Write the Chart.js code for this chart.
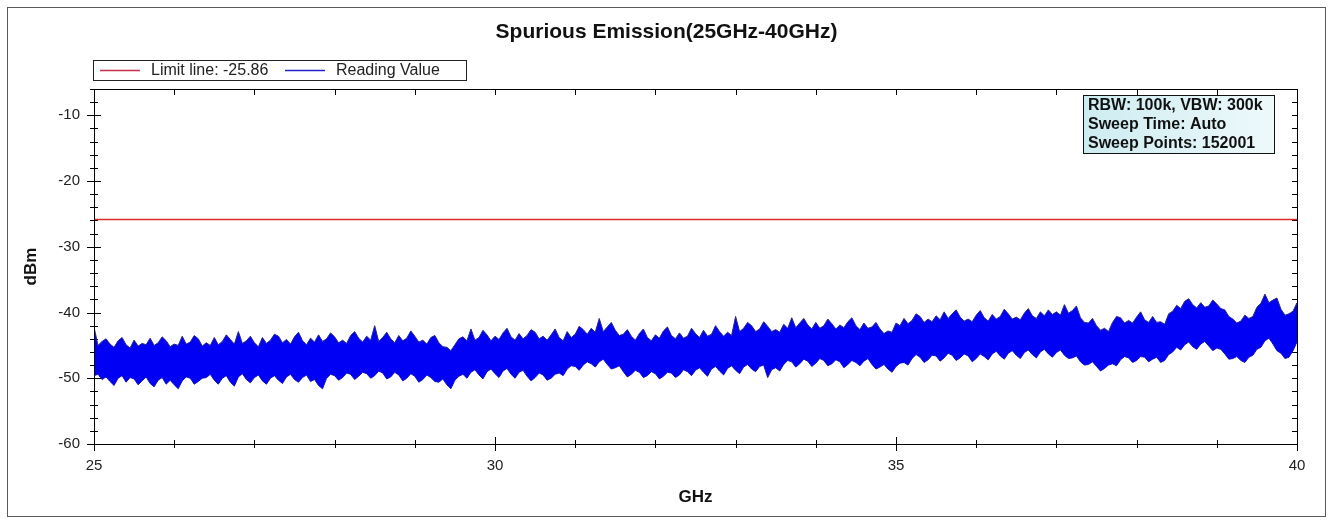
<!DOCTYPE html>
<html>
<head>
<meta charset="utf-8">
<script src="https://cdn.jsdelivr.net/npm/chart.js@4/dist/chart.umd.min.js"></script>
<style>
  html, body { margin: 0; padding: 0; background: #fff; }
  canvas { display: block; }
</style>
</head>
<body>
<canvas id="chart" width="1333" height="523"></canvas>
<script>
const chartTitle = 'Spurious Emission(25GHz-40GHz)';
const limitLabel = 'Limit line: -25.86';
const readingLabel = 'Reading Value';
const infoLines = ['RBW: 100k, VBW: 300k', 'Sweep Time: Auto', 'Sweep Points: 152001'];
const xTitle = 'GHz';
const yTitle = 'dBm';

const xMajorTicks = [25, 30, 35, 40];
const yMajorTicks = [-60, -50, -40, -30, -20, -10];

const limitFreq = [25, 40];
const limitDbm = [-25.86, -25.86];

// reading value band, upper / lower edge of the trace read every 0.05 GHz
const freqGHz = [
  25, 25.05, 25.1, 25.15, 25.2, 25.25, 25.3, 25.35, 25.4, 25.45,
  25.5, 25.55, 25.6, 25.65, 25.7, 25.75, 25.8, 25.85, 25.9, 25.95,
  26, 26.05, 26.1, 26.15, 26.2, 26.25, 26.3, 26.35, 26.4, 26.45,
  26.5, 26.55, 26.6, 26.65, 26.7, 26.75, 26.8, 26.85, 26.9, 26.95,
  27, 27.05, 27.1, 27.15, 27.2, 27.25, 27.3, 27.35, 27.4, 27.45,
  27.5, 27.55, 27.6, 27.65, 27.7, 27.75, 27.8, 27.85, 27.9, 27.95,
  28, 28.05, 28.1, 28.15, 28.2, 28.25, 28.3, 28.35, 28.4, 28.45,
  28.5, 28.55, 28.6, 28.65, 28.7, 28.75, 28.8, 28.85, 28.9, 28.95,
  29, 29.05, 29.1, 29.15, 29.2, 29.25, 29.3, 29.35, 29.4, 29.45,
  29.5, 29.55, 29.6, 29.65, 29.7, 29.75, 29.8, 29.85, 29.9, 29.95,
  30, 30.05, 30.1, 30.15, 30.2, 30.25, 30.3, 30.35, 30.4, 30.45,
  30.5, 30.55, 30.6, 30.65, 30.7, 30.75, 30.8, 30.85, 30.9, 30.95,
  31, 31.05, 31.1, 31.15, 31.2, 31.25, 31.3, 31.35, 31.4, 31.45,
  31.5, 31.55, 31.6, 31.65, 31.7, 31.75, 31.8, 31.85, 31.9, 31.95,
  32, 32.05, 32.1, 32.15, 32.2, 32.25, 32.3, 32.35, 32.4, 32.45,
  32.5, 32.55, 32.6, 32.65, 32.7, 32.75, 32.8, 32.85, 32.9, 32.95,
  33, 33.05, 33.1, 33.15, 33.2, 33.25, 33.3, 33.35, 33.4, 33.45,
  33.5, 33.55, 33.6, 33.65, 33.7, 33.75, 33.8, 33.85, 33.9, 33.95,
  34, 34.05, 34.1, 34.15, 34.2, 34.25, 34.3, 34.35, 34.4, 34.45,
  34.5, 34.55, 34.6, 34.65, 34.7, 34.75, 34.8, 34.85, 34.9, 34.95,
  35, 35.05, 35.1, 35.15, 35.2, 35.25, 35.3, 35.35, 35.4, 35.45,
  35.5, 35.55, 35.6, 35.65, 35.7, 35.75, 35.8, 35.85, 35.9, 35.95,
  36, 36.05, 36.1, 36.15, 36.2, 36.25, 36.3, 36.35, 36.4, 36.45,
  36.5, 36.55, 36.6, 36.65, 36.7, 36.75, 36.8, 36.85, 36.9, 36.95,
  37, 37.05, 37.1, 37.15, 37.2, 37.25, 37.3, 37.35, 37.4, 37.45,
  37.5, 37.55, 37.6, 37.65, 37.7, 37.75, 37.8, 37.85, 37.9, 37.95,
  38, 38.05, 38.1, 38.15, 38.2, 38.25, 38.3, 38.35, 38.4, 38.45,
  38.5, 38.55, 38.6, 38.65, 38.7, 38.75, 38.8, 38.85, 38.9, 38.95,
  39, 39.05, 39.1, 39.15, 39.2, 39.25, 39.3, 39.35, 39.4, 39.45,
  39.5, 39.55, 39.6, 39.65, 39.7, 39.75, 39.8, 39.85, 39.9, 39.95,
  40
];
const readingUpper = [
  -42.2, -45.0, -44.4, -44.0, -44.8, -45.3, -44.3, -43.8, -44.9, -45.4,
  -44.2, -45.1, -44.7, -44.9, -43.9, -45.0, -44.6, -43.7, -44.3, -45.2,
  -44.8, -45.0, -43.6, -44.8, -44.5, -43.5, -44.0, -45.1, -44.6, -45.0,
  -43.8, -44.9, -44.4, -43.4, -44.1, -44.8, -42.9, -44.7, -44.3, -43.6,
  -44.6, -45.2, -43.8, -44.7, -44.2, -43.3, -43.6, -44.6, -44.1, -44.8,
  -43.7, -43.0, -44.3, -44.9, -43.9, -44.5, -43.4, -44.4, -44.0, -43.1,
  -43.7, -44.6, -44.2, -44.7, -43.5, -42.9, -43.9, -44.5, -43.6, -44.2,
  -42.0, -44.4, -43.8, -43.0, -44.0, -44.6, -43.5, -44.3, -43.9, -42.8,
  -43.6, -44.5, -44.2, -44.8, -43.8, -43.5, -44.6, -45.2, -45.3, -45.8,
  -44.9, -44.0, -43.7, -44.3, -42.5, -44.2, -43.8, -42.7, -43.4, -44.3,
  -43.6, -44.1, -43.1, -42.4, -43.7, -44.2, -43.2, -44.0, -43.5, -42.6,
  -43.0, -44.0, -43.6, -44.2, -43.4, -42.5, -43.8, -44.3, -42.9, -43.8,
  -43.3, -42.1, -42.6, -43.3, -42.4, -43.0, -40.9, -42.9, -42.2, -41.5,
  -42.7, -43.5, -43.3, -42.6, -43.6, -44.2, -43.2, -42.5, -43.8, -44.3,
  -43.4, -43.9, -42.8, -42.2, -43.5, -44.0, -43.1, -43.9, -43.6, -42.4,
  -43.2, -43.8, -42.7, -43.6, -43.3, -42.0, -42.9, -43.6, -43.0, -43.5,
  -40.6, -42.9, -42.4, -41.5, -42.0, -42.9, -42.5, -41.4, -42.1, -42.9,
  -42.6, -43.0, -41.8, -42.4, -40.8, -42.3, -41.6, -40.9, -41.9, -42.5,
  -41.5, -42.4, -42.0, -41.0, -41.7, -42.5, -41.9, -42.3, -41.4, -40.8,
  -42.0, -42.6, -41.6, -42.4, -42.2, -41.5, -42.5, -43.2, -42.8, -43.0,
  -41.6, -42.0, -40.9, -41.7, -41.2, -40.2, -40.6, -41.5, -41.0, -41.4,
  -40.5, -41.1, -39.9, -40.9, -40.2, -39.6, -40.7, -41.3, -41.0, -41.4,
  -40.4, -39.7, -40.8, -41.3, -40.3, -41.0, -40.6, -39.5, -40.2, -41.0,
  -40.7, -41.1, -40.1, -39.4, -40.5, -40.9, -39.9, -40.5, -39.6, -40.3,
  -39.9, -40.4, -38.8, -40.1, -39.7, -39.0, -40.8, -41.5, -41.6, -40.9,
  -42.0, -42.7, -42.4, -42.9, -41.5, -40.6, -40.8, -41.6, -41.2, -41.6,
  -40.7, -39.9, -41.1, -41.5, -40.6, -41.5, -41.4, -41.8, -40.2, -39.8,
  -38.9, -39.4, -38.3, -37.9, -38.8, -39.3, -38.5, -39.2, -39.0, -38.1,
  -38.7, -39.4, -39.6, -40.6, -41.0, -41.6, -41.3, -40.4, -40.9, -40.6,
  -39.2, -38.6, -37.2, -38.5, -38.1, -37.8, -39.5, -40.4, -40.2, -39.8,
  -38.5
];
const readingLower = [
  -49.6, -49.4, -50.2, -49.8, -50.5, -51.1, -50.0, -49.6, -50.6, -49.9,
  -50.1, -51.0, -50.4, -49.8, -50.8, -51.3, -50.3, -49.9, -50.9, -50.3,
  -51.0, -51.6, -50.4, -49.8, -50.0, -50.9, -50.5, -50.0, -49.9, -49.4,
  -50.3, -50.9, -50.0, -49.6, -50.6, -51.2, -49.8, -49.3, -50.2, -50.7,
  -49.9, -49.5, -50.4, -50.9, -50.0, -49.6, -50.3, -50.8, -49.8, -49.4,
  -50.2, -50.6, -49.9, -49.5, -50.5, -50.2, -51.1, -51.6, -50.0, -49.4,
  -49.6, -50.3, -49.9, -49.2, -49.4, -50.2, -49.7, -49.1, -49.3, -50.0,
  -49.6, -48.9, -49.2, -50.1, -49.8, -49.1, -49.5, -50.4, -50.0, -49.3,
  -49.7, -50.6, -50.2, -49.5, -49.9, -50.5, -50.6, -50.1, -51.0, -51.6,
  -50.3, -49.7, -49.4, -50.0, -49.1, -48.7, -49.5, -50.1, -49.0, -48.6,
  -49.3, -49.9, -48.9, -48.5, -49.4, -50.0, -49.1, -48.8, -49.7, -50.4,
  -49.9, -49.2, -49.5, -50.3, -50.0, -49.4, -49.2, -49.6, -48.6, -48.1,
  -48.2, -48.8, -48.0, -47.5, -47.8, -48.3, -47.5, -47.1, -47.9, -48.6,
  -48.4, -48.1, -49.0, -49.8, -49.4, -48.8, -49.1, -49.9, -49.6, -49.0,
  -49.3, -50.1, -49.7, -49.1, -49.2, -49.9, -49.5, -48.7, -49.0, -49.6,
  -48.8, -48.4, -49.1, -49.7, -48.6, -48.2, -48.9, -49.5, -48.5, -48.1,
  -48.8, -49.3, -48.3, -47.9, -48.6, -49.0, -48.2, -48.0, -49.9, -48.7,
  -48.4, -48.9, -47.9, -47.3, -47.5, -48.3, -47.8, -47.1, -47.4, -48.2,
  -47.7, -47.0, -47.3, -48.1, -47.8, -47.2, -47.5, -48.4, -47.9, -47.3,
  -47.6, -48.1, -47.4, -47.0, -47.9, -48.6, -48.3, -47.9, -48.6, -49.1,
  -48.2, -47.7, -47.6, -48.0, -47.0, -46.4, -46.8, -47.6, -47.2, -46.5,
  -46.6, -47.4, -46.9, -46.2, -46.5, -47.3, -46.9, -46.3, -46.6, -47.5,
  -47.0, -46.3, -46.7, -47.2, -46.3, -45.9, -46.6, -47.1, -46.2, -45.8,
  -46.5, -47.0, -46.1, -45.7, -46.4, -46.9, -46.0, -45.6, -46.3, -46.8,
  -46.1, -45.7, -46.5, -47.0, -46.9, -46.6, -47.5, -48.0, -47.9, -47.5,
  -48.2, -48.9, -48.5, -48.0, -47.8, -48.1, -47.2, -46.7, -46.9, -47.6,
  -47.3, -46.7, -46.8, -47.5, -47.1, -46.8, -47.6, -47.3, -46.4, -46.0,
  -45.3, -45.7, -44.9, -44.5, -45.2, -45.6, -44.8, -44.4, -45.1, -45.8,
  -45.4, -45.6, -46.3, -47.1, -47.0, -46.7, -47.3, -47.6, -46.8, -46.5,
  -45.6, -45.3, -44.3, -43.9, -44.8, -45.8, -46.2, -47.0, -46.8, -45.8,
  -44.5
];

const FONT = 'Arial, "Liberation Sans", sans-serif';
const RED = '#dc2a32';
const BLUE = '#0000f4';
const BLUE_EDGE = '#26268e';

const toPoints = (xs, ys) => xs.map((x, i) => ({ x: x, y: ys[i] }));

// frame, ticks, title, legend box, info box
const decor = {
  id: 'decor',
  beforeDraw(chart) {
    const ctx = chart.ctx;
    ctx.save();
    ctx.fillStyle = '#fff';
    ctx.fillRect(0, 0, chart.width, chart.height);
    ctx.strokeStyle = '#5a5a5a';
    ctx.lineWidth = 1;
    ctx.strokeRect(7.5, 7.5, 1318, 509);
    ctx.restore();
  },
  beforeDatasetsDraw(chart) {
    const ctx = chart.ctx;
    const a = chart.chartArea;
    const xs = chart.scales.x, ys = chart.scales.y;
    ctx.save();
    ctx.strokeStyle = '#000';
    ctx.lineWidth = 1;
    ctx.beginPath();
    xs.ticks.forEach(t => {
      const px = Math.round(xs.getPixelForValue(t.value)) + 0.5;
      const len = xMajorTicks.includes(t.value) ? 7 : 4;
      ctx.moveTo(px, a.bottom - len); ctx.lineTo(px, a.bottom + len);
      ctx.moveTo(px, a.top); ctx.lineTo(px, a.top + 6);
    });
    ys.ticks.forEach(t => {
      const py = Math.round(ys.getPixelForValue(t.value)) + 0.5;
      const len = yMajorTicks.includes(t.value) ? 7 : 4;
      ctx.moveTo(a.left - len, py); ctx.lineTo(a.left + len, py);
      ctx.moveTo(a.right, py); ctx.lineTo(a.right - 5, py);
    });
    ctx.stroke();
    ctx.restore();
  },
  afterDraw(chart) {
    const ctx = chart.ctx;
    const a = chart.chartArea;
    ctx.save();
    ctx.strokeStyle = '#000';
    ctx.lineWidth = 1;
    ctx.strokeRect(Math.round(a.left) + 0.5, Math.round(a.top) + 0.5,
      Math.round(a.right - a.left), Math.round(a.bottom - a.top));

    ctx.fillStyle = '#111';
    ctx.textBaseline = 'middle';
    ctx.textAlign = 'center';
    ctx.font = 'bold 21px ' + FONT;
    ctx.fillText(chartTitle, chart.width / 2, 32);

    ctx.font = 'bold 17px ' + FONT;
    ctx.fillText(xTitle, (a.left + a.right) / 2, 497);
    ctx.save();
    ctx.translate(31, (a.top + a.bottom) / 2);
    ctx.rotate(-Math.PI / 2);
    ctx.fillText(yTitle, 0, 0);
    ctx.restore();

    // legend
    ctx.strokeStyle = '#222';
    ctx.strokeRect(93.5, 60.5, 373, 20);
    ctx.font = '16px ' + FONT;
    ctx.textAlign = 'left';
    const ds = chart.data.datasets;
    const items = [{ ds: ds[0], x: 100 }, { ds: ds[1], x: 285 }];
    items.forEach(it => {
      ctx.strokeStyle = it.ds.legendColor;
      ctx.lineWidth = 1.5;
      ctx.beginPath();
      ctx.moveTo(it.x, 70.5); ctx.lineTo(it.x + 40, 70.5);
      ctx.stroke();
      ctx.fillStyle = '#222';
      ctx.fillText(it.ds.label, it.x + 51, 71);
    });

    // info box
    const g = ctx.createLinearGradient(1083, 0, 1274, 0);
    g.addColorStop(0, '#cdecf1');
    g.addColorStop(1, '#eef9fb');
    ctx.fillStyle = g;
    ctx.fillRect(1083, 95, 191, 58);
    ctx.strokeStyle = '#111';
    ctx.lineWidth = 1;
    ctx.strokeRect(1083.5, 95.5, 191, 58);
    ctx.fillStyle = '#111';
    ctx.font = 'bold 16px ' + FONT;
    infoLines.forEach((s, i) => ctx.fillText(s, 1088, 106 + i * 19));
    ctx.restore();
  }
};

new Chart(document.getElementById('chart'), {
  type: 'line',
  data: {
    datasets: [
      {
        label: limitLabel,
        data: toPoints(limitFreq, limitDbm),
        borderColor: RED,
        legendColor: '#c8304a',
        borderWidth: 1.5,
        pointRadius: 0,
        fill: false
      },
      {
        label: readingLabel,
        data: toPoints(freqGHz, readingUpper),
        borderColor: BLUE_EDGE,
        legendColor: '#2222c8',
        backgroundColor: BLUE,
        borderWidth: 1,
        pointRadius: 0,
        fill: '+1'
      },
      {
        label: readingLabel + ' (lower)',
        data: toPoints(freqGHz, readingLower),
        borderColor: BLUE_EDGE,
        borderWidth: 1,
        pointRadius: 0,
        fill: false
      }
    ]
  },
  options: {
    responsive: false,
    animation: false,
    events: [],
    layout: { padding: { left: 0, top: 89, right: 36, bottom: 0 } },
    plugins: {
      legend: { display: false },
      title: { display: false },
      tooltip: { enabled: false }
    },
    scales: {
      x: {
        type: 'linear',
        min: 25,
        max: 40,
        grid: { display: false, drawTicks: false },
        border: { display: false },
        afterFit: s => { s.height = 79; },
        ticks: {
          stepSize: 1,
          autoSkip: false,
          maxRotation: 0,
          padding: 13,
          color: '#222',
          font: { family: FONT, size: 15 },
          callback: v => xMajorTicks.includes(v) ? String(v) : ''
        }
      },
      y: {
        min: -60,
        max: -6,
        grid: { display: false, drawTicks: false },
        border: { display: false },
        afterFit: s => { s.width = 94; },
        ticks: {
          stepSize: 2,
          autoSkip: false,
          padding: 14,
          color: '#222',
          font: { family: FONT, size: 15 },
          callback: v => yMajorTicks.includes(v) ? String(v) : ''
        }
      }
    }
  },
  plugins: [decor]
});
</script>
</body>
</html>
